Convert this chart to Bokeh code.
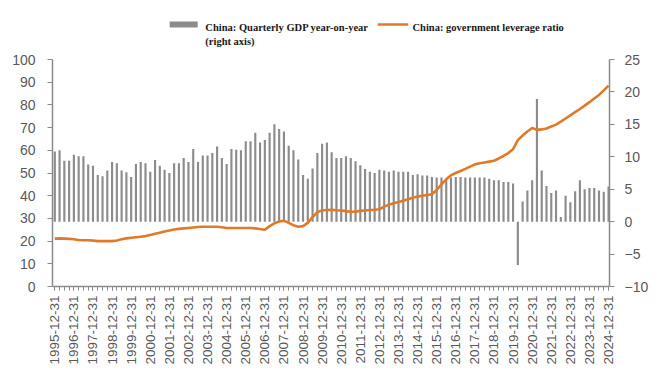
import math
from bokeh.plotting import figure
from bokeh.layouts import column
from bokeh.models import Range1d, LinearAxis, FixedTicker, ColumnDataSource
from bokeh.core.properties import value
from bokeh.embed import file_html
from bokeh.resources import INLINE

# ---------------- data ----------------
years = list(range(1995, 2025))
tick_labels = [f"{y}-12-31" for y in years]

# China: Quarterly GDP year-on-year (%), 1995Q4 .. 2024Q4 (right axis)
gdp_yoy = [
    10.8, 11.0, 9.4, 9.4, 10.3, 10.1, 10.1, 8.8, 8.6, 7.2, 7.0, 7.9,
    9.2, 9.0, 7.9, 7.6, 6.9, 8.9, 9.2, 9.0, 7.7, 9.5, 8.6, 8.0,
    7.5, 9.0, 9.0, 9.8, 9.2, 11.2, 9.2, 10.2, 10.2, 10.6, 11.6, 9.8,
    8.9, 11.2, 11.1, 11.0, 12.4, 12.4, 13.7, 12.2, 12.6, 13.7, 15.0, 14.3,
    13.9, 11.7, 11.0, 9.6, 7.2, 6.6, 8.2, 10.6, 12.0, 12.2, 10.7, 9.8,
    9.8, 10.1, 9.8, 9.3, 8.7, 8.1, 7.7, 7.5, 8.0, 7.9, 7.7, 7.9,
    7.7, 7.7, 7.7, 7.2, 7.3, 7.1, 7.1, 6.9, 6.8, 6.8, 6.6, 6.8,
    6.9, 6.9, 6.8, 6.8, 6.8, 6.8, 6.8, 6.6, 6.4, 6.4, 6.1, 6.1,
    5.9, -6.7, 3.1, 4.8, 6.4, 18.9, 7.9, 5.5, 4.4, 4.8, 0.7, 4.0,
    3.0, 4.7, 6.4, 5.0, 5.2, 5.2, 4.8, 4.6, 5.4,
]

# China: government leverage ratio (%), 1995Q4 .. 2024Q4 (left axis)
leverage = [
    21.1, 21.2, 21.1, 21.0, 20.8, 20.5, 20.4, 20.4, 20.2, 20.0, 20.0, 20.0,
    20.0, 20.3, 20.8, 21.2, 21.5, 21.7, 21.9, 22.2, 22.7, 23.2, 23.7, 24.2,
    24.7, 25.1, 25.4, 25.6, 25.8, 26.0, 26.2, 26.3, 26.3, 26.3, 26.3, 26.1,
    25.8, 25.8, 25.8, 25.8, 25.8, 25.8, 25.6, 25.3, 25.0, 26.6, 27.8, 28.6,
    29.0, 28.0, 27.0, 26.3, 26.6, 28.0, 30.6, 32.8, 33.5, 33.7, 33.8, 33.6,
    33.5, 33.2, 32.9, 33.0, 33.3, 33.5, 33.7, 33.8, 34.0, 35.2, 36.0, 36.7,
    37.2, 37.8, 38.4, 39.1, 39.6, 40.0, 40.3, 40.6, 42.5, 45.0, 47.2, 49.0,
    50.0, 50.9, 51.8, 52.8, 53.8, 54.3, 54.6, 55.0, 55.4, 56.4, 57.5, 58.8,
    60.5, 64.5, 66.5, 68.3, 69.8, 69.0, 69.2, 69.6, 70.5, 71.3, 72.6, 74.0,
    75.4, 76.8, 78.2, 79.7, 81.2, 82.8, 84.4, 86.4, 88.5,
]

series_names = ["China: Quarterly GDP year-on-year", "(right axis)",
                "China: government leverage ratio"]

idx = list(range(len(gdp_yoy)))
src = ColumnDataSource(dict(x=idx, gdp=gdp_yoy, lev=leverage))

GRAY = "#8c8c8c"
ORANGE = "#e07a28"
AXIS = "#8a8a8a"
LABEL = "#595959"
W = 656
LEG_H = 49

# ---------------- legend strip (pixel-like coordinates) ----------------
leg = figure(width=W, height=LEG_H, output_backend="svg", toolbar_location=None,
             x_range=Range1d(0, W), y_range=Range1d(LEG_H, 0),
             min_border=0, x_axis_location=None, y_axis_location=None)
leg.outline_line_color = None
leg.grid.visible = False
leg.background_fill_color = "white"
leg.border_fill_color = "white"
leg.quad(left=[138], right=[171], top=[21], bottom=[27], fill_color=GRAY, line_color=None)
leg.segment(x0=[383], x1=[419], y0=[24], y1=[24], line_color=ORANGE, line_width=2.6)
leg.text(x=[180, 180, 424], y=[27, 41, 27], text=series_names,
         text_font=value("Liberation Serif"), text_font_style="bold",
         text_font_size="10.5px", text_color="#1a1a1a", text_baseline="alphabetic")

# ---------------- main chart ----------------
TOP = 59 - LEG_H          # frame top in page pixels = 59
H = 332
BOT = 286 - LEG_H         # frame bottom in figure pixels
p = figure(width=W, height=H, output_backend="svg", toolbar_location=None,
           x_range=Range1d(-0.48, 116.2), y_range=Range1d(0, 100),
           min_border_left=52, min_border_right=W - 609, min_border_top=TOP,
           min_border_bottom=H - BOT, y_axis_location=None, x_axis_location=None)
p.extra_y_ranges = {"right": Range1d(-10, 25)}
p.outline_line_color = None
p.grid.visible = False
p.background_fill_color = "white"
p.border_fill_color = "white"

p.vbar(x="x", top="gdp", bottom=0, width=0.45, source=src, y_range_name="right",
       fill_color=GRAY, line_color=None)
p.line(x="x", y="lev", source=src, line_color=ORANGE, line_width=2.6)


def style(ax, size):
    ax.axis_line_color = AXIS
    ax.axis_line_width = 1.5
    ax.major_tick_line_color = AXIS
    ax.minor_tick_line_color = AXIS
    ax.major_tick_in = 0
    ax.minor_tick_in = 0
    ax.major_label_text_font = "Liberation Sans"
    ax.major_label_text_font_size = size
    ax.major_label_text_color = LABEL


left = LinearAxis(ticker=FixedTicker(ticks=list(range(0, 101, 10)), minor_ticks=[]))
style(left, "14px")
left.major_tick_out = 5
left.major_label_standoff = 12
p.add_layout(left, "left")

right = LinearAxis(y_range_name="right",
                   ticker=FixedTicker(ticks=list(range(-10, 26, 5)), minor_ticks=[]))
style(right, "14px")
right.major_tick_out = 5
right.major_label_standoff = 10
p.add_layout(right, "right")

bottom = LinearAxis(ticker=FixedTicker(ticks=[i * 4 for i in range(len(years))],
                                       minor_ticks=idx))
style(bottom, "13.5px")
bottom.major_tick_out = 4
bottom.minor_tick_out = 4
bottom.major_label_standoff = 5
bottom.major_label_orientation = math.pi / 2
bottom.major_label_overrides = {i * 4: lab for i, lab in enumerate(tick_labels)}
p.add_layout(bottom, "below")

layout = column(leg, p, spacing=0)
open("out.html", "w").write(file_html(layout, INLINE))
